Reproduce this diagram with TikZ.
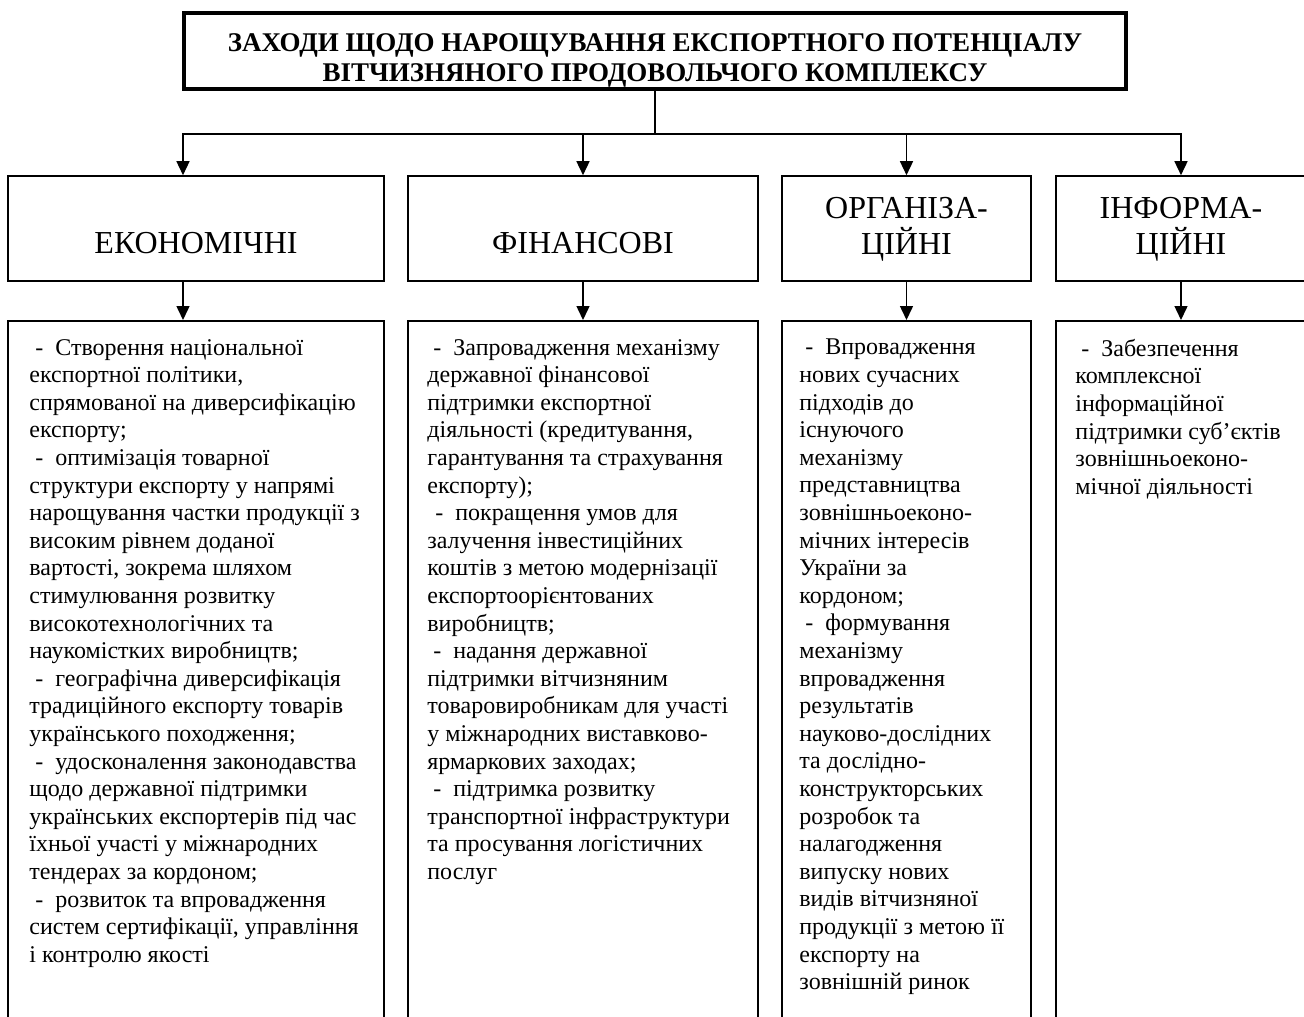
\documentclass[tikz,border=0pt]{standalone}
\usepackage{fontspec}
\setmainfont{Liberation Serif}
\usetikzlibrary{arrows.meta,calc}
\newcommand{\itemdash}{\hspace*{0.25em}-\hspace*{0.5em}}
\begin{document}
\begin{tikzpicture}[x=1pt,y=-1pt,
  titlebox/.style={draw,line width=4pt,minimum width=942pt,minimum height=76pt,inner sep=0pt},
  catbox/.style={draw,line width=1.6pt,minimum height=105pt,inner sep=0pt},
  detbox/.style={draw,line width=1.6pt,minimum height=760pt,inner sep=0pt,anchor=north},
  cattext/.style={font=\fontsize{32}{35.7}\selectfont,align=center,inner sep=0pt},
  dettext/.style={font=\fontsize{24}{27.6}\selectfont,align=left,inner sep=0pt,anchor=north west},
  arr/.style={line width=1.5pt,-{Triangle[width=13pt,length=14pt]}},
  conn/.style={line width=1.5pt}]
\useasboundingbox (0,0) rectangle (1304,1017);
\clip (0,0) rectangle (1304,1017);

\node[titlebox] (title) at (655,51) {};
\node[font=\bfseries\fontsize{27}{30}\selectfont,align=center,inner sep=0pt] (tt) at ([yshift=-9pt]title.center)
  {ЗАХОДИ ЩОДО НАРОЩУВАННЯ ЕКСПОРТНОГО ПОТЕНЦІАЛУ\\ВІТЧИЗНЯНОГО ПРОДОВОЛЬЧОГО КОМПЛЕКСУ};

% category boxes
\node[catbox,minimum width=376pt] (c1) at (196,228.5) {};
\node[catbox,minimum width=350pt] (c2) at (583,228.5) {};
\node[catbox,minimum width=249pt] (c3) at (906.5,228.5) {};
\node[catbox,minimum width=250pt] (c4) at (1181,228.5) {};

\node[cattext] (l1) at ([yshift=-15pt]c1.center) {ЕКОНОМІЧНІ};
\node[cattext] (l2) at ([yshift=-15pt]c2.center) {ФІНАНСОВІ};
\node[cattext] (l3) at ([yshift=-1pt]c3.center) {ОРГАНІЗА-\\ЦІЙНІ};
\node[cattext] (l4) at ([yshift=-1pt]c4.center) {ІНФОРМА-\\ЦІЙНІ};

% detail boxes
\node[detbox,minimum width=376pt] (d1) at (196,320) {};
\node[detbox,minimum width=350pt] (d2) at (583,320) {};
\node[detbox,minimum width=249pt] (d3) at (906.5,320) {};
\node[detbox,minimum width=250pt] (d4) at (1181,320) {};

% connectors
\coordinate (j) at ([yshift=-43pt]title.south);
\draw[conn] (title.south) -- (j);
\draw[arr] (j) -| ([xshift=-13pt]c1.north);
\draw[arr] (j) -| (c2.north);
\draw[arr] (j) -| (c3.north);
\draw[arr] (j) -| (c4.north);

\draw[arr] ([xshift=-13pt]c1.south) -- ([xshift=-13pt]d1.north);
\draw[arr] (c2.south) -- (d2.north);
\draw[arr] (c3.south) -- (d3.north);
\draw[arr] (c4.south) -- (d4.north);

% texts
\node[dettext] (t1) at ([xshift=22pt,yshift=-19pt]d1.north west) {%
\itemdash Створення національної\\
експортної політики,\\
спрямованої на диверсифікацію\\
експорту;\\
\itemdash оптимізація товарної\\
структури експорту у напрямі\\
нарощування частки продукції з\\
високим рівнем доданої\\
вартості, зокрема шляхом\\
стимулювання розвитку\\
високотехнологічних та\\
наукомістких виробництв;\\
\itemdash географічна диверсифікація\\
традиційного експорту товарів\\
українського походження;\\
\itemdash удосконалення законодавства\\
щодо державної підтримки\\
українських експортерів під час\\
їхньої участі у міжнародних\\
тендерах за кордоном;\\
\itemdash розвиток та впровадження\\
систем сертифікації, управління\\
і контролю якості};

\node[dettext] (t2) at ([xshift=20pt,yshift=-19pt]d2.north west) {%
\itemdash Запровадження механізму\\
державної фінансової\\
підтримки експортної\\
діяльності (кредитування,\\
гарантування та страхування\\
експорту);\\
\hspace*{2pt}\itemdash покращення умов для\\
залучення інвестиційних\\
коштів з метою модернізації\\
експортоорієнтованих\\
виробництв;\\
\itemdash надання державної\\
підтримки вітчизняним\\
товаровиробникам для участі\\
у міжнародних виставково-\\
ярмаркових заходах;\\
\itemdash підтримка розвитку\\
транспортної інфраструктури\\
та просування логістичних\\
послуг};

\node[dettext] (t3) at ([xshift=18pt,yshift=-19pt]d3.north west) {%
\itemdash Впровадження\\
нових сучасних\\
підходів до\\
існуючого\\
механізму\\
представництва\\
зовнішньоеконо-\\
мічних інтересів\\
України за\\
кордоном;\\
\itemdash формування\\
механізму\\
впровадження\\
результатів\\
науково-дослідних\\
та дослідно-\\
конструкторських\\
розробок та\\
налагодження\\
випуску нових\\
видів вітчизняної\\
продукції з метою її\\
експорту на\\
зовнішній ринок};

\node[dettext] (t4) at ([xshift=20pt,yshift=-19pt]d4.north west) {%
\itemdash Забезпечення\\
комплексної\\
інформаційної\\
підтримки суб’єктів\\
зовнішньоеконо-\\
мічної діяльності};
\end{tikzpicture}
\end{document}
